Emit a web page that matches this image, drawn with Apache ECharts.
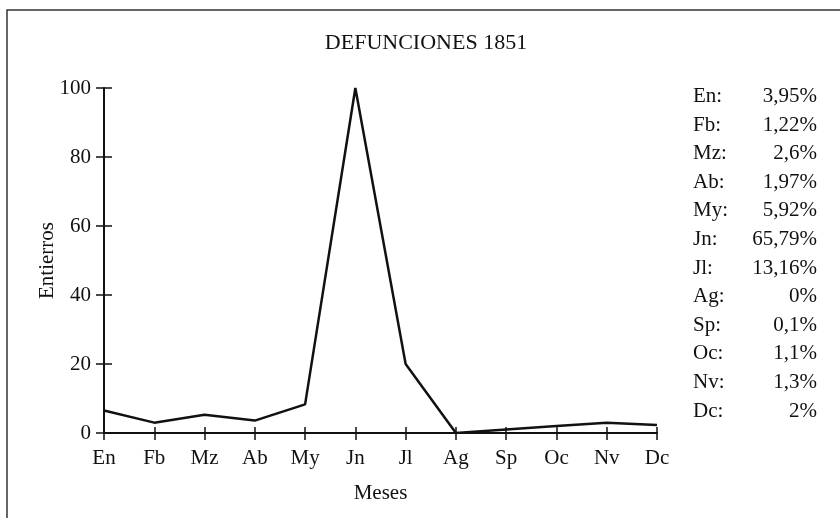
<!DOCTYPE html>
<html>
<head>
<meta charset="utf-8">
<style>
  html, body { margin: 0; padding: 0; background: #fff; }
  #chart { width: 840px; height: 518px; }
</style>
<script src="https://cdn.jsdelivr.net/npm/echarts@6/dist/echarts.min.js"></script>
</head>
<body>
<div id="chart"></div>
<script>
var meses = ['En', 'Fb', 'Mz', 'Ab', 'My', 'Jn', 'Jl', 'Ag', 'Sp', 'Oc', 'Nv', 'Dc'];
var entierros = [6.5, 3, 5.3, 3.6, 8.3, 100, 20, 0, 1, 2, 3, 2.3];
var porcentajes = ['3,95%', '1,22%', '2,6%', '1,97%', '5,92%', '65,79%', '13,16%', '0%', '0,1%', '1,1%', '1,3%', '2%'];

var fuente = 'Liberation Serif, Times New Roman, serif';
var tinta = '#111';
var tam = 21;

// tabla de porcentajes a la derecha
var tabla = [];
for (var i = 0; i < meses.length; i++) {
    tabla.push({
        type: 'text', left: 693, top: 86 + i * 28.6,
        style: { text: meses[i] + ':', font: tam + 'px ' + fuente, fill: tinta }
    });
    tabla.push({
        type: 'text', right: 23, top: 86 + i * 28.6,
        style: { text: porcentajes[i], font: tam + 'px ' + fuente, fill: tinta, textAlign: 'right' }
    });
}
// marco (solo arriba e izquierda visibles)
tabla.push({
    type: 'polyline', silent: true,
    shape: { points: [[7, 530], [7, 10], [850, 10]] },
    style: { stroke: '#333', lineWidth: 1.5, fill: null }
});

var myChart = echarts.init(document.getElementById('chart'));
var option = {
    animation: false,
    backgroundColor: '#fff',
    title: {
        text: 'DEFUNCIONES 1851',
        left: 421, top: 27, textAlign: 'center',
        textStyle: { fontFamily: fuente, fontSize: 22, fontWeight: 'normal', color: tinta }
    },
    grid: { left: 104, right: 183, top: 88, bottom: 85 },
    graphic: tabla,
    xAxis: [{
        type: 'category',
        data: meses,
        boundaryGap: false,
        name: 'Meses',
        nameLocation: 'middle',
        nameGap: 50,
        nameTextStyle: { fontFamily: fuente, fontSize: tam, color: tinta },
        axisLine: { lineStyle: { color: tinta, width: 2 } },
        axisTick: { length: 7, lineStyle: { color: tinta, width: 1.5 } },
        axisLabel: { margin: 15, fontFamily: fuente, fontSize: tam, color: tinta },
        splitLine: { show: false }
    }, {
        type: 'category',
        data: meses,
        boundaryGap: false,
        position: 'bottom',
        axisLine: { show: false },
        axisTick: { inside: true, length: 6, lineStyle: { color: tinta, width: 1.5 } },
        axisLabel: { show: false },
        splitLine: { show: false }
    }],
    yAxis: [{
        type: 'value',
        min: 0, max: 100, interval: 20,
        name: 'Entierros',
        nameLocation: 'middle',
        nameGap: 46,
        nameMoveOverlap: false,
        nameTextStyle: { fontFamily: fuente, fontSize: tam, color: tinta },
        axisLine: { show: true, lineStyle: { color: tinta, width: 2 } },
        axisTick: { show: true, length: 8, lineStyle: { color: tinta, width: 1.5 } },
        axisLabel: { margin: 13, fontFamily: fuente, fontSize: tam, color: tinta },
        splitLine: { show: false }
    }, {
        type: 'value',
        min: 0, max: 100, interval: 20,
        position: 'left',
        axisLine: { show: false },
        axisTick: { show: true, inside: true, length: 8, lineStyle: { color: tinta, width: 1.5 } },
        axisLabel: { show: false },
        splitLine: { show: false }
    }],
    series: [{
        type: 'line',
        data: entierros,
        showSymbol: false,
        symbol: 'none',
        lineStyle: { color: tinta, width: 2.5 },
        z: 5
    }]
};
myChart.setOption(option);
</script>
</body>
</html>
